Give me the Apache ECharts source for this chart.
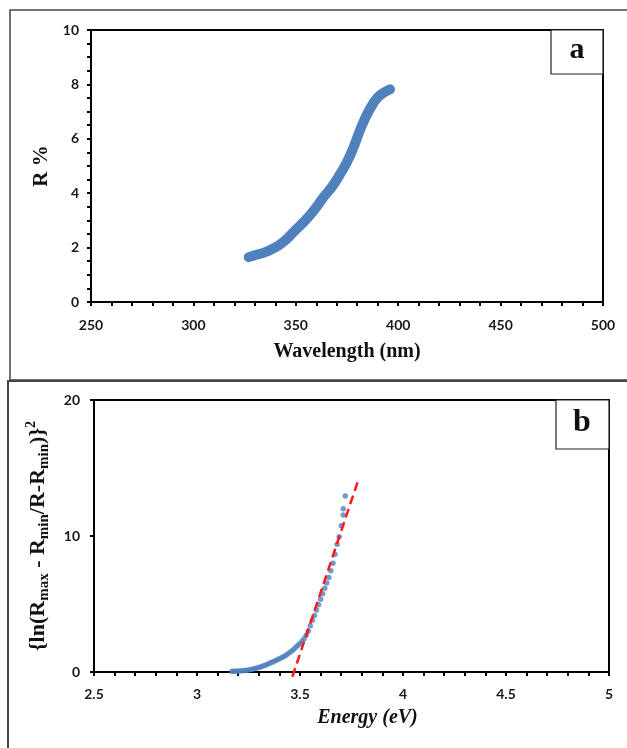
<!DOCTYPE html>
<html>
<head>
<meta charset="utf-8">
<script src="https://cdn.jsdelivr.net/npm/echarts@6/dist/echarts.min.js"></script>
<style>
  html, body { margin: 0; padding: 0; background: #fff; }
  #chart { width: 627px; height: 748px; }
</style>
</head>
<body>
<div id="chart"></div>
<script>
// panel a: reflectance vs wavelength
const wavelength = [327, 330, 333, 336, 339, 342, 345, 348, 351, 354, 357, 360, 363, 366, 369, 372, 375, 378, 381, 384, 387, 390, 393, 396];
const reflectance = [1.65, 1.72, 1.78, 1.86, 1.97, 2.10, 2.28, 2.50, 2.73, 2.95, 3.20, 3.48, 3.80, 4.08, 4.38, 4.75, 5.15, 5.65, 6.25, 6.78, 7.20, 7.52, 7.70, 7.82];

// panel b: {ln(...)}^2 vs energy
const energy = [3.17, 3.18, 3.19, 3.20, 3.21, 3.22, 3.23, 3.24, 3.25, 3.26, 3.27, 3.28, 3.29, 3.30, 3.31, 3.32, 3.33, 3.34, 3.35, 3.36, 3.37, 3.38, 3.39, 3.40, 3.41, 3.42, 3.43, 3.44, 3.45, 3.46, 3.47, 3.48, 3.49, 3.50, 3.51, 3.52, 3.53, 3.54, 3.55, 3.56, 3.57, 3.58, 3.59, 3.60, 3.61, 3.62, 3.63, 3.64, 3.65, 3.66, 3.67, 3.68, 3.69, 3.70, 3.71, 3.71, 3.72];
const lnValue = [0.05, 0.05, 0.06, 0.07, 0.08, 0.09, 0.11, 0.13, 0.15, 0.18, 0.21, 0.25, 0.29, 0.34, 0.39, 0.44, 0.50, 0.56, 0.62, 0.69, 0.76, 0.83, 0.90, 0.97, 1.04, 1.12, 1.21, 1.32, 1.43, 1.55, 1.68, 1.82, 1.96, 2.10, 2.26, 2.45, 2.70, 3.00, 3.40, 3.80, 4.15, 4.55, 4.95, 5.35, 5.75, 6.15, 6.55, 6.95, 7.45, 8.00, 8.65, 9.40, 9.95, 10.75, 11.55, 12.00, 12.95];

// linear fit (red dashed)
const fitEnergy = [3.463, 3.785];
const fitValue = [-0.35, 14.2];

const xTicksA = [250, 500, 50];
const yTicksA = [0, 10, 2];
const xTicksB = [2.5, 5, 0.5];
const yTicksB = [0, 20, 10];

const chart = echarts.init(document.getElementById('chart'));

const tickFont = {color: '#1a1a1a', fontFamily: 'Lato', fontWeight: 'bold', fontSize: 14};
const axisBlack = {lineStyle: {color: '#000', width: 2}};

function pairs(xs, ys) {
    return xs.map((x, i) => [x, ys[i]]);
}

const option = {
    backgroundColor: '#fff',
    animation: false,
    grid: [
        {left: 91, top: 30, width: 512, height: 272, show: true, borderColor: '#000', borderWidth: 2},
        {left: 94, top: 400, width: 515, height: 272, show: true, borderColor: '#000', borderWidth: 2}
    ],
    xAxis: [
        {
            gridIndex: 0, type: 'value', min: xTicksA[0], max: xTicksA[1], interval: xTicksA[2],
            axisLine: axisBlack,
            axisTick: {show: true, length: 4, lineStyle: {color: '#000', width: 2}},
            minorTick: {show: true, splitNumber: 5, length: 4, lineStyle: {color: '#000', width: 2}},
            splitLine: {show: false},
            axisLabel: Object.assign({margin: 16}, tickFont),
            name: 'Wavelength (nm)', nameLocation: 'middle', nameGap: 40,
            nameTextStyle: {fontFamily: 'Liberation Serif', fontWeight: 'bold', fontSize: 20, color: '#111'}
        },
        {
            gridIndex: 1, type: 'value', min: xTicksB[0], max: xTicksB[1], interval: xTicksB[2],
            axisLine: axisBlack,
            axisTick: {show: true, length: 4, lineStyle: {color: '#000', width: 2}},
            minorTick: {show: true, splitNumber: 5, length: 4, lineStyle: {color: '#000', width: 2}},
            splitLine: {show: false},
            axisLabel: Object.assign({margin: 15, formatter: v => String(v)}, tickFont),
            name: 'Energy (eV)', nameLocation: 'middle', nameGap: 36,
            nameTextStyle: {fontFamily: 'Liberation Serif', fontWeight: 'bold', fontStyle: 'italic', fontSize: 20, color: '#111', padding: [0, 0, 0, 32]}
        }
    ],
    yAxis: [
        {
            gridIndex: 0, type: 'value', min: yTicksA[0], max: yTicksA[1], interval: yTicksA[2],
            axisLine: axisBlack,
            axisTick: {show: true, length: 4, lineStyle: {color: '#000', width: 2}},
            minorTick: {show: true, splitNumber: 4, length: 4, lineStyle: {color: '#000', width: 2}},
            splitLine: {show: false},
            axisLabel: Object.assign({margin: 12}, tickFont),
            name: 'R %', nameLocation: 'middle', nameGap: 37, nameRotate: 90,
            nameTextStyle: {fontFamily: 'Liberation Serif', fontWeight: 'bold', fontSize: 21, color: '#111'}
        },
        {
            gridIndex: 1, type: 'value', min: yTicksB[0], max: yTicksB[1], interval: yTicksB[2],
            axisLine: axisBlack,
            axisTick: {show: true, length: 4, lineStyle: {color: '#000', width: 2}},
            splitLine: {show: false},
            axisLabel: Object.assign({margin: 14}, tickFont),
            name: '{b|{ln(R}{s|max}{b| - R}{s|min}{b|/R-R}{s|min}{b|)}}{p|2}',
            nameLocation: 'middle', nameGap: 42, nameRotate: 90,
            nameTextStyle: {
                fontFamily: 'Liberation Serif', fontWeight: 'bold', fontSize: 22, color: '#111',
                rich: {
                    b: {fontFamily: 'Liberation Serif', fontWeight: 'bold', fontSize: 22, color: '#111', lineHeight: 28, verticalAlign: 'middle'},
                    s: {fontFamily: 'Liberation Serif', fontWeight: 'bold', fontSize: 15, color: '#111', lineHeight: 28, verticalAlign: 'bottom'},
                    p: {fontFamily: 'Liberation Serif', fontWeight: 'bold', fontSize: 14, color: '#111', lineHeight: 28, verticalAlign: 'top'}
                }
            }
        }
    ],
    series: [
        {
            type: 'line', xAxisIndex: 0, yAxisIndex: 0,
            data: pairs(wavelength, reflectance),
            smooth: true, showSymbol: false,
            lineStyle: {color: '#4f81bd', width: 10, cap: 'round', join: 'round'}
        },
        {
            type: 'scatter', xAxisIndex: 1, yAxisIndex: 1,
            data: pairs(energy, lnValue),
            symbolSize: 5.5,
            itemStyle: {color: '#4f81bd'}
        },
        {
            type: 'line', xAxisIndex: 1, yAxisIndex: 1,
            data: pairs(fitEnergy, fitValue),
            showSymbol: false, clip: false, z: 3,
            lineStyle: {color: '#ff1a1a', width: 2.5, type: [9, 5]}
        }
    ],
    graphic: [
        // outer panel frames
        {type: 'rect', shape: {x: 10, y: 10, width: 640, height: 370}, style: {fill: 'none', stroke: '#444', lineWidth: 1.5}, z: 0},
        {type: 'rect', shape: {x: 8, y: 381, width: 640, height: 400}, style: {fill: 'none', stroke: '#444', lineWidth: 2}, z: 0},
        // panel labels
        {type: 'rect', shape: {x: 551, y: 30, width: 52, height: 44}, style: {fill: '#fff', stroke: '#222', lineWidth: 1.2}, z: 10},
        {type: 'text', x: 577, y: 50, style: {text: 'a', fontFamily: 'Liberation Serif', fontWeight: 'bold', fontSize: 30, fill: '#111', align: 'center', verticalAlign: 'middle'}, z: 11},
        {type: 'rect', shape: {x: 556, y: 400, width: 53, height: 49}, style: {fill: '#fff', stroke: '#222', lineWidth: 1.2}, z: 10},
        {type: 'text', x: 582, y: 423, style: {text: 'b', fontFamily: 'Liberation Serif', fontWeight: 'bold', fontSize: 32, fill: '#111', align: 'center', verticalAlign: 'middle'}, z: 11}
    ]
};

chart.setOption(option);
</script>
</body>
</html>
